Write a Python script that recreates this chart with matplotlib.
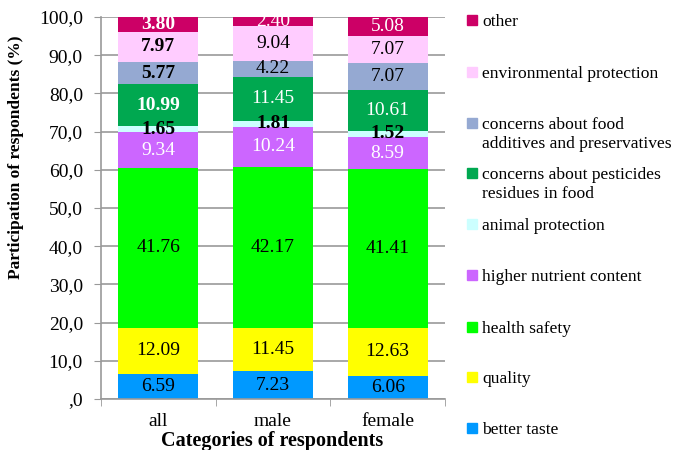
import matplotlib
matplotlib.use("Agg")
import matplotlib.pyplot as plt
from matplotlib.patches import Rectangle

plt.rcParams["font.family"] = ["Liberation Serif", "DejaVu Serif"]

# Data: share of respondents (%) by motive, stacked bottom to top
categories = ["all", "male", "female"]
series_names = [
    "better taste",
    "quality",
    "health safety",
    "higher nutrient content",
    "animal protection",
    "concerns about pesticides\nresidues in food",
    "concerns about food\nadditives and preservatives",
    "environmental protection",
    "other",
]
better_taste = [6.59, 7.23, 6.06]
quality = [12.09, 11.45, 12.63]
health_safety = [41.76, 42.17, 41.41]
higher_nutrient = [9.34, 10.24, 8.59]
animal_protection = [1.65, 1.81, 1.52]
pesticides = [10.99, 11.45, 10.61]
additives = [5.77, 4.22, 7.07]
environmental = [7.97, 9.04, 7.07]
other = [3.80, 2.40, 5.08]
series_values = [better_taste, quality, health_safety, higher_nutrient,
                 animal_protection, pesticides, additives, environmental, other]

y_ticks = [0, 10, 20, 30, 40, 50, 60, 70, 80, 90, 100]
y_tick_labels = [",0", "10,0", "20,0", "30,0", "40,0", "50,0",
                 "60,0", "70,0", "80,0", "90,0", "100,0"]

# Styling
colors = ["#0099FF", "#FFFF00", "#00FF00", "#CC66FF", "#CCFFFF",
          "#00A850", "#95A9D2", "#FFCCFF", "#CC0066"]
label_colors = ["black", "black", "black", "white", "black",
                "white", "black", "black", "white"]
# (series index, category index) drawn in bold
bold_cells = {(4, 0), (4, 1), (4, 2), (5, 0), (6, 0), (7, 0), (8, 0)}

W, H = 700, 450
fig = plt.figure(figsize=(W / 100, H / 100), dpi=100)
ax = fig.add_axes([101 / W, 1 - 399 / H, 344 / W, 382 / H])

x = list(range(len(categories)))
bottom = [0.0] * len(categories)
for si, vals in enumerate(series_values):
    ax.bar(x, vals, width=0.70, bottom=bottom, color=colors[si],
           edgecolor="none", zorder=2)
    for ci, v in enumerate(vals):
        bold = (si, ci) in bold_cells
        ax.text(x[ci], bottom[ci] + v / 2, f"{v:.2f}", ha="center",
                va="center", fontsize=14, color=label_colors[si],
                fontweight="bold" if bold else "normal", zorder=3)
    bottom = [b + v for b, v in zip(bottom, vals)]

ax.set_xlim(-0.5, len(categories) - 0.5)
ax.set_ylim(0, 100)
ax.set_yticks(y_ticks)
ax.set_yticklabels(y_tick_labels)
ax.set_xticks(x)
ax.set_xticklabels(categories)
ax.set_xticks([i - 0.5 for i in range(len(categories) + 1)], minor=True)
ax.tick_params(axis="x", which="major", length=0, pad=10, labelsize=14)
ax.tick_params(axis="x", which="minor", length=5, color="#999999", direction="out")
ax.tick_params(axis="y", length=5, color="#999999", pad=8, labelsize=14)
ax.yaxis.grid(True, color="#9A9A9A", linewidth=1.2, zorder=0)
ax.set_axisbelow(True)
for s in ("top", "right"):
    ax.spines[s].set_visible(False)
for s in ("left", "bottom"):
    ax.spines[s].set_color("#999999")
    ax.spines[s].set_linewidth(1.2)

# Overlay in pixel coordinates for titles and legend
ov = fig.add_axes([0, 0, 1, 1], facecolor="none")
ov.set_xlim(0, W)
ov.set_ylim(H, 0)
ov.axis("off")

ov.text(272, 441, "Categories of respondents", ha="center", va="center",
        fontsize=14.5, fontweight="bold")
ov.text(16, 157, "Participation of respondents (%)", ha="center",
        va="center", rotation=90, fontsize=12.5, fontweight="bold")

legend_y = [428, 377, 327, 275, 224, 173, 123, 72, 20]
for si, name in enumerate(series_names):
    y0 = legend_y[si]
    ov.add_patch(Rectangle((467, y0 - 5), 10, 10, color=colors[si]))
    for li, line in enumerate(name.split("\n")):
        ov.text(482, y0 + li * 19, line, ha="left", va="center_baseline",
                fontsize=12.6)

fig.savefig("out.png", dpi=100)
